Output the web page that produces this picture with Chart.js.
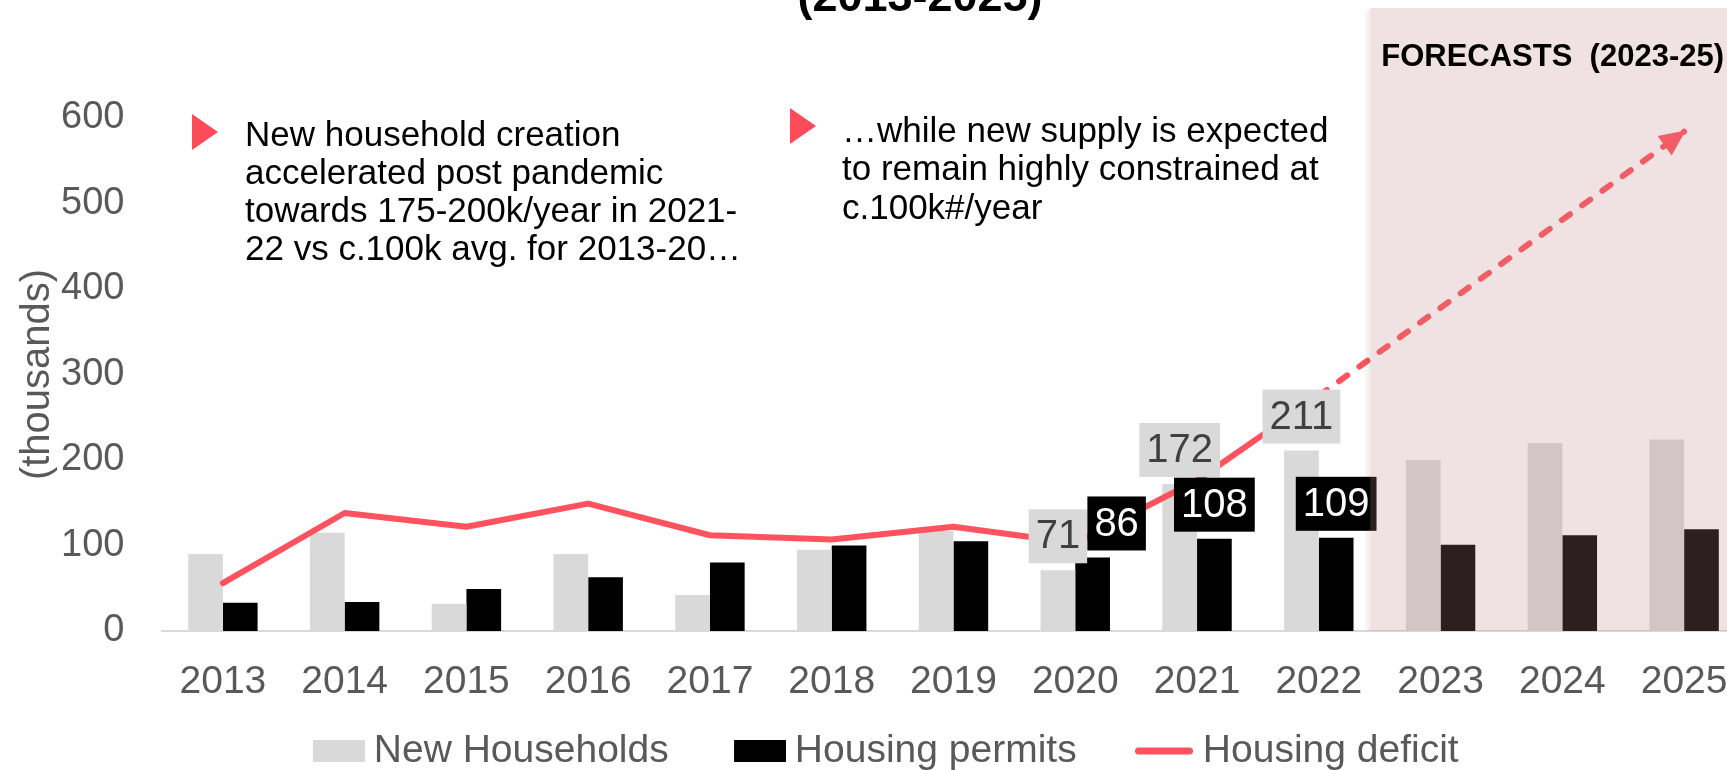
<!DOCTYPE html>
<html>
<head>
<meta charset="utf-8">
<script src="https://cdn.jsdelivr.net/npm/chart.js@4.4.1/dist/chart.umd.min.js"></script>
<style>
  html, body { margin: 0; padding: 0; overflow: hidden; background: #ffffff; width: 1727px; height: 770px; }
  #wrap { position: absolute; left: 0; top: 0; width: 1760px; height: 790px; }
</style>
</head>
<body>
<div id="wrap"><canvas id="chart" width="1760" height="790"></canvas></div>
<script>
// ---------------- data ----------------
const years = ['2013','2014','2015','2016','2017','2018','2019','2020','2021','2022','2023','2024','2025'];
const newHouseholds  = [90, 115, 32, 90, 42, 95, 117, 71, 172, 211, 200, 220, 224];
const housingPermits = [33, 34, 49, 63, 80, 100, 105, 86, 108, 109, 101, 112, 119];
const housingDeficit = [56, 138, 122, 149, 112, 107, 122, 103, 176, 275, null, null, null];
const deficitForecast = [null, null, null, null, null, null, null, null, null, 275, null, null, 584];
const yTickValues = [0, 100, 200, 300, 400, 500, 600];
const labelledYears = ['2020', '2021', '2022'];
const forecastYears = ['2023', '2024', '2025'];
const seriesNames = ['New Households', 'Housing permits', 'Housing deficit'];
const titleText = '(2013-2025)';
const forecastText = 'FORECASTS  (2023-25)';
const yAxisTitle = '(thousands)';
const note1 = ['New household creation', 'accelerated post pandemic', 'towards 175-200k/year in 2021-', '22 vs c.100k avg. for 2013-20…'];
const note2 = ['…while new supply is expected', 'to remain highly constrained at', 'c.100k#/year'];

// ---------------- styles ----------------
const GREY = '#d9d9d9', BLACK = '#000000', RED = '#ff525f', AXIS_TXT = '#595959';
const FONT = '"Liberation Sans", Arial, sans-serif';

// legend icons: visible mark sits at the right end of a wider transparent canvas
function boxIcon(color) {
  const c = document.createElement('canvas'); c.width = 118; c.height = 22;
  const x = c.getContext('2d'); x.fillStyle = color; x.fillRect(66, 0, 52, 22); return c;
}
function lineIcon(color) {
  const c = document.createElement('canvas'); c.width = 126; c.height = 10;
  const x = c.getContext('2d'); x.strokeStyle = color; x.lineWidth = 7; x.lineCap = 'round';
  x.beginPath(); x.moveTo(66.5, 5); x.lineTo(117.5, 5); x.stroke(); return c;
}
const legendIcons = [boxIcon(GREY), boxIcon(BLACK), lineIcon(RED)];

// data label boxes on bars
const labelPlugin = {
  id: 'barLabels',
  afterDatasetsDraw(chart) {
    const ctx = chart.ctx;
    const shift = { '1-7': 24 };
    const styles = [
      { bg: GREY, fg: '#404040', vals: newHouseholds },
      { bg: BLACK, fg: '#ffffff', vals: housingPermits }
    ];
    ctx.save();
    ctx.font = '40px ' + FONT;
    ctx.textAlign = 'center';
    ctx.textBaseline = 'middle';
    labelledYears.forEach(yr => {
      const i = years.indexOf(yr);
      styles.forEach((st, d) => {
        const el = chart.getDatasetMeta(d).data[i];
        const txt = String(st.vals[i]);
        const w = ctx.measureText(txt).width + 14;
        const h = 54;
        const cx = el.x + (shift[d + '-' + i] || 0);
        const bottom = el.y - 7;
        ctx.fillStyle = st.bg;
        ctx.fillRect(cx - w / 2, bottom - h, w, h);
        ctx.fillStyle = st.fg;
        ctx.fillText(txt, cx, bottom - h / 2 + 1);
      });
    });
    ctx.restore();
  }
};

// arrow head on forecast line
const arrowPlugin = {
  id: 'arrowHead',
  afterDatasetDraw(chart, args) {
    if (args.index !== 3) return;
    const pts = args.meta.data.filter((p, i) => deficitForecast[i] !== null);
    const a = pts[pts.length - 2], b = pts[pts.length - 1];
    const ang = Math.atan2(b.y - a.y, b.x - a.x);
    const ctx = chart.ctx;
    ctx.save();
    ctx.translate(b.x + 2 * Math.cos(ang), b.y + 2 * Math.sin(ang));
    ctx.rotate(ang);
    ctx.fillStyle = RED;
    ctx.beginPath();
    ctx.moveTo(0, 0); ctx.lineTo(-26, -12); ctx.lineTo(-26, 12); ctx.closePath();
    ctx.fill();
    ctx.restore();
  }
};

// forecast shading + annotations
const overlayPlugin = {
  id: 'overlay',
  afterDraw(chart) {
    const ctx = chart.ctx;
    const xs = chart.scales.x;
    const area = chart.chartArea;
    const i0 = years.indexOf(forecastYears[0]);
    const left = (xs.getPixelForValue(i0 - 1) + xs.getPixelForValue(i0)) / 2 - 9.5;
    const top = 8;
    ctx.save();
    const g = ctx.createLinearGradient(left - 7, 0, left, 0);
    g.addColorStop(0, 'rgba(0,0,0,0)');
    g.addColorStop(1, 'rgba(0,0,0,0.07)');
    ctx.fillStyle = g;
    ctx.fillRect(left - 7, top + 2, 7, area.bottom - top - 2);
    ctx.fillStyle = 'rgba(191,132,132,0.235)';
    ctx.fillRect(left, top, chart.width - left, area.bottom - top);

    ctx.fillStyle = '#000000';
    ctx.font = 'bold 31px ' + FONT;
    ctx.textAlign = 'left';
    ctx.textBaseline = 'middle';
    ctx.fillText(forecastText, left + 11, 57);

    ctx.font = 'bold 45px ' + FONT;
    ctx.textAlign = 'center';
    ctx.textBaseline = 'alphabetic';
    ctx.fillText(titleText, 920, 11);

    // annotations
    ctx.fillStyle = '#fd4b5a';
    ctx.beginPath(); ctx.moveTo(192, 114); ctx.lineTo(218, 132); ctx.lineTo(192, 150); ctx.closePath(); ctx.fill();
    ctx.beginPath(); ctx.moveTo(790, 108); ctx.lineTo(816, 126); ctx.lineTo(790, 144); ctx.closePath(); ctx.fill();
    ctx.fillStyle = '#000000';
    ctx.font = '35px ' + FONT;
    ctx.textAlign = 'left';
    ctx.textBaseline = 'middle';
    note1.forEach((t, k) => ctx.fillText(t, 245, 136 + k * 38));
    note2.forEach((t, k) => ctx.fillText(t, 842, 132 + k * 38.5));
    ctx.restore();
  }
};

const ctx = document.getElementById('chart').getContext('2d');
new Chart(ctx, {
  data: {
    labels: years,
    datasets: [
      { type: 'bar', label: seriesNames[0], data: newHouseholds, backgroundColor: GREY, order: 3,
        categoryPercentage: 0.57, barPercentage: 1.0 },
      { type: 'bar', label: seriesNames[1], data: housingPermits, backgroundColor: BLACK, order: 3,
        categoryPercentage: 0.57, barPercentage: 1.0 },
      { type: 'line', label: seriesNames[2], data: housingDeficit, borderColor: RED, backgroundColor: RED,
        borderWidth: 6, pointRadius: 0, tension: 0, borderCapStyle: 'round', borderJoinStyle: 'round', order: 2, spanGaps: false },
      { type: 'line', label: 'forecast', data: deficitForecast, borderColor: RED, borderWidth: 6, pointRadius: 0,
        borderDash: [10, 15], borderCapStyle: 'round', spanGaps: true, order: 1 }
    ]
  },
  options: {
    responsive: false,
    animation: false,
    layout: { padding: { left: -28.7, right: 15, top: 118, bottom: 9.5 } },
    scales: {
      x: {
        grid: { display: false, drawTicks: false },
        border: { display: true, color: GREY, width: 2 },
        ticks: { color: AXIS_TXT, font: { family: FONT, size: 39 }, padding: 28, maxRotation: 0, autoSkip: false },
        afterFit: s => { s.height = 90.5; }
      },
      y: {
        min: 0, max: 600,
        afterBuildTicks: s => { s.ticks = yTickValues.map(v => ({ value: v })); },
        grid: { display: false, drawTicks: false },
        border: { display: false },
        ticks: { color: AXIS_TXT, font: { family: FONT, size: 38 }, padding: 37.5 },
        title: { display: true, text: yAxisTitle, color: AXIS_TXT, font: { family: FONT, size: 40, lineHeight: 0.05 },
                 padding: { top: 65.7, bottom: 0 } },
        afterFit: s => { s.width = 190.7; }
      }
    },
    plugins: {
      tooltip: { enabled: false },
      legend: {
        position: 'bottom',
        align: 'center',
        labels: {
          color: AXIS_TXT,
          font: { family: FONT, size: 39 },
          usePointStyle: true,
          pointStyleWidth: 96.7,
          boxHeight: 22,
          padding: 10,
          generateLabels: chart => seriesNames.map((n, i) => ({
            text: n, pointStyle: legendIcons[i], fillStyle: 'rgba(0,0,0,0)', strokeStyle: 'rgba(0,0,0,0)',
            lineWidth: 0, hidden: false, datasetIndex: i, fontColor: AXIS_TXT
          }))
        }
      }
    }
  },
  plugins: [labelPlugin, arrowPlugin, overlayPlugin]
});
</script>
</body>
</html>
